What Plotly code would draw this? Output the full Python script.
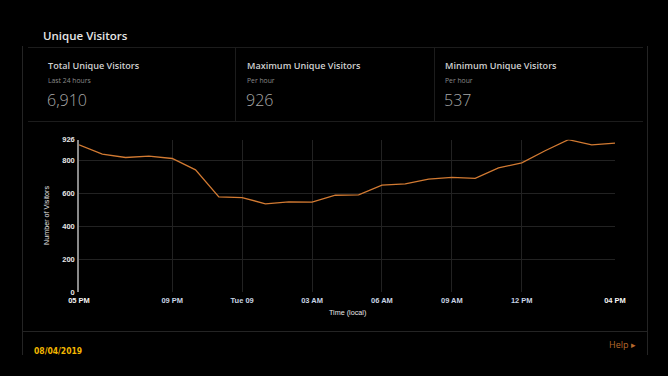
import plotly.graph_objects as go

# ---- data ----
times = [
    "2019-04-08 17:00", "2019-04-08 18:00", "2019-04-08 19:00", "2019-04-08 20:00",
    "2019-04-08 21:00", "2019-04-08 22:00", "2019-04-08 23:00", "2019-04-09 00:00",
    "2019-04-09 01:00", "2019-04-09 02:00", "2019-04-09 03:00", "2019-04-09 04:00",
    "2019-04-09 05:00", "2019-04-09 06:00", "2019-04-09 07:00", "2019-04-09 08:00",
    "2019-04-09 09:00", "2019-04-09 10:00", "2019-04-09 11:00", "2019-04-09 12:00",
    "2019-04-09 13:00", "2019-04-09 14:00", "2019-04-09 15:00", "2019-04-09 16:00",
]
visitors = [895, 838, 818, 826, 812, 743, 579, 575, 537, 549, 547, 589,
            591, 650, 658, 687, 697, 691, 755, 786, 859, 926, 895, 905]

x_tick_vals = ["2019-04-08 17:00", "2019-04-08 21:00", "2019-04-09 00:00", "2019-04-09 03:00",
               "2019-04-09 06:00", "2019-04-09 09:00", "2019-04-09 12:00", "2019-04-09 16:00"]
x_tick_text = ["05 PM", "09 PM", "Tue 09", "03 AM", "06 AM", "09 AM", "12 PM", "04 PM"]
y_tick_vals = [0, 200, 400, 600, 800, 926]

stat_titles = ["Total Unique Visitors", "Maximum Unique Visitors", "Minimum Unique Visitors"]
stat_subs = ["Last 24 hours", "Per hour", "Per hour"]
stat_values = ["6,910", "926", "537"]

W, H = 668, 376


def px(x):
    return x / W


def py(y):
    return 1 - y / H


fig = go.Figure()
fig.add_trace(go.Scatter(
    x=times, y=visitors, mode="lines",
    line=dict(color="#d27a32", width=1.3),
    hoverinfo="x+y", showlegend=False,
))

tick_text_styled = []
for i, t in enumerate(x_tick_text):
    if i == 0 or i == len(x_tick_text) - 1:
        tick_text_styled.append("<b>%s</b>" % t)
    else:
        tick_text_styled.append("<span style='color:#c8d4e4'><b>%s</b></span>" % t)

fig.update_layout(
    template="none",
    autosize=False,
    width=W, height=H,
    margin=dict(l=0, r=0, t=0, b=0, pad=0, autoexpand=False),
    paper_bgcolor="#000000", plot_bgcolor="#000000",
    font=dict(family="Liberation Sans, Arial, sans-serif", color="#e6e6e6"),
    xaxis=dict(
        domain=[px(79), px(615)],
        anchor="y",
        type="date",
        range=[times[0], times[-1]],
        tickvals=x_tick_vals, ticktext=tick_text_styled,
        tickfont=dict(size=7.5, color="#f4f4f4"),
        showgrid=True, gridcolor="#222222", gridwidth=1,
        zeroline=False, showline=False, ticks="",
        ticklabelstandoff=2, automargin=False,
        fixedrange=True,
    ),
    yaxis=dict(
        domain=[py(292.3), py(139.7)],
        anchor="x",
        range=[0, 926],
        tickvals=y_tick_vals,
        ticktext=["<b>%d</b>" % v for v in y_tick_vals],
        tickfont=dict(size=7.5, color="#e8e8e8"),
        showgrid=True, gridcolor="#222222", gridwidth=1,
        zeroline=False, showline=True, linecolor="#8a8a8a", linewidth=1.5,
        ticks="", ticklabelstandoff=1, automargin=False,
        fixedrange=True,
    ),
)

shapes = []
line_col = "#242424"
# outer panel verticals
shapes.append(dict(type="line", xref="paper", yref="paper", x0=px(22.5), x1=px(22.5), y0=py(46), y1=py(355),
                   line=dict(color=line_col, width=1)))
shapes.append(dict(type="line", xref="paper", yref="paper", x0=px(647.5), x1=px(647.5), y0=py(46), y1=py(355),
                   line=dict(color=line_col, width=1)))
# stats box
for yy in (47.5, 121.5):
    shapes.append(dict(type="line", xref="paper", yref="paper", x0=px(28), x1=px(643), y0=py(yy), y1=py(yy),
                       line=dict(color="#1c1c1c", width=1)))
for xx in (235.5, 434.5):
    shapes.append(dict(type="line", xref="paper", yref="paper", x0=px(xx), x1=px(xx), y0=py(47.5), y1=py(121.5),
                       line=dict(color="#1c1c1c", width=1)))
# footer line
shapes.append(dict(type="line", xref="paper", yref="paper", x0=px(22), x1=px(648), y0=py(331.5), y1=py(331.5),
                   line=dict(color=line_col, width=1)))
fig.update_layout(shapes=shapes)

ann = []
ann.append(dict(text="Unique Visitors", x=px(41), y=py(36), xref="paper", yref="paper",
                xanchor="left", yanchor="middle", showarrow=False,
                font=dict(family="Open Sans, Noto Sans, sans-serif", size=11.5, color="#e6e6e6", weight=600)))
col_x = [47, 246, 444]
for cx, t, s, v in zip(col_x, stat_titles, stat_subs, stat_values):
    ann.append(dict(text=t, x=px(cx - 1), y=py(65), xref="paper", yref="paper",
                    xanchor="left", yanchor="middle", showarrow=False,
                    font=dict(family="Open Sans, Noto Sans, sans-serif", size=9.1, color="#cfcfcf", weight=600)))
    ann.append(dict(text=s, x=px(cx - 1), y=py(80.5), xref="paper", yref="paper",
                    xanchor="left", yanchor="middle", showarrow=False,
                    font=dict(family="Open Sans, Noto Sans, sans-serif", size=6.8, color="#8a8a8a")))
    ann.append(dict(text=v, x=px(cx - 2), y=py(100), xref="paper", yref="paper",
                    xanchor="left", yanchor="middle", showarrow=False,
                    font=dict(family="Open Sans, Noto Sans, sans-serif", size=16, color="#a8a8a8", weight=300)))
# axis titles
ann.append(dict(text="Number of Visitors", x=px(46), y=py(216), xref="paper", yref="paper",
                xanchor="center", yanchor="middle", textangle=-90, showarrow=False,
                font=dict(size=7.2, color="#e8e8e8")))
ann.append(dict(text="Time (local)", x=px(347), y=py(312.3), xref="paper", yref="paper",
                xanchor="center", yanchor="middle", showarrow=False,
                font=dict(size=7.2, color="#e8e8e8")))
# footer
ann.append(dict(text="<b>08/04/2019</b>", x=px(31.5), y=py(351), xref="paper", yref="paper",
                xanchor="left", yanchor="middle", showarrow=False,
                font=dict(family="DejaVu Sans Condensed, DejaVu Sans Mono, sans-serif", size=8.5, color="#f2b600")))
ann.append(dict(text="Help \u25B8", x=px(607), y=py(344), xref="paper", yref="paper",
                xanchor="left", yanchor="middle", showarrow=False,
                font=dict(family="Open Sans, Noto Sans, sans-serif", size=9, color="#b8692c")))
fig.update_layout(annotations=ann)

fig.write_html(
    "out.html",
    config={"displayModeBar": False},
    post_script="document.body.style.margin='0';document.body.style.background='#000';document.body.style.overflow='hidden';",
)
